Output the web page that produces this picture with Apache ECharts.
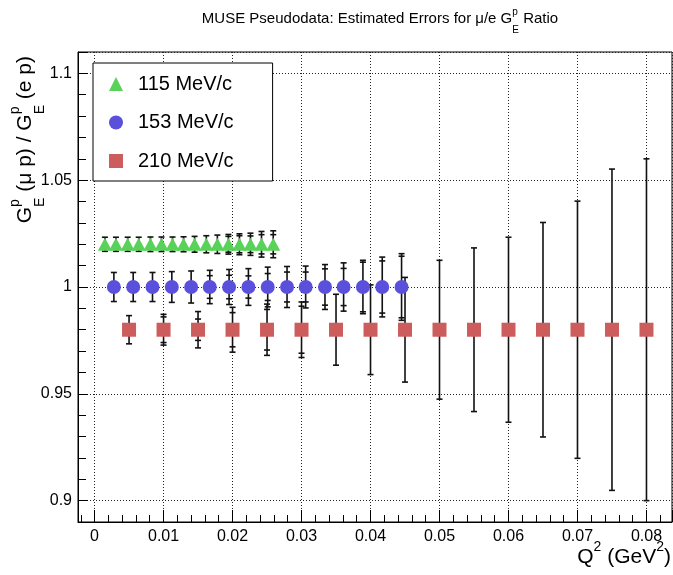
<!DOCTYPE html>
<html lang="en" style="height: 100%">
<head>
  <meta charset="utf-8">
</head>
<body style="height: 100%; margin: 0">
  <div id="container" style="width: 673px; height: 575px"></div>

  <script type="text/javascript" src="https://fastly.jsdelivr.net/npm/echarts@6.0.0/dist/echarts.min.js"></script>
  <script type="text/javascript">
    // 115 MeV/c (green triangles)
    var q115 = [0.0015, 0.0031, 0.0048, 0.0064, 0.0081, 0.0097, 0.0113, 0.0129, 0.0145, 0.0162, 0.0178, 0.0194, 0.0210, 0.0226, 0.0242, 0.0259];
    var r115 = [1.02, 1.02, 1.02, 1.02, 1.02, 1.02, 1.02, 1.02, 1.02, 1.02, 1.02, 1.02, 1.02, 1.02, 1.02, 1.02];
    var err115 = [0.0033, 0.0033, 0.0033, 0.0033, 0.0034, 0.0034, 0.0034, 0.0035, 0.0037, 0.0040, 0.0043, 0.0046, 0.0049, 0.0052, 0.0060, 0.0063];
    var errIn115 = [0.0033, 0.0033, 0.0033, 0.0033, 0.0034, 0.0034, 0.0034, 0.0035, 0.0037, 0.0040, 0.0043, 0.0037, 0.0040, 0.0039, 0.0045, 0.0045];

    // 153 MeV/c (blue circles)
    var q153 = [0.0028, 0.0056, 0.0084, 0.0112, 0.0140, 0.0167, 0.0195, 0.0223, 0.0251, 0.0279, 0.0306, 0.0334, 0.0361, 0.0389, 0.0417, 0.0445];
    var r153 = [1.0, 1.0, 1.0, 1.0, 1.0, 1.0, 1.0, 1.0, 1.0, 1.0, 1.0, 1.0, 1.0, 1.0, 1.0, 1.0];
    var err153 = [0.0068, 0.0068, 0.0068, 0.0072, 0.0075, 0.0078, 0.0082, 0.0086, 0.0093, 0.0096, 0.0098, 0.0105, 0.0113, 0.0125, 0.0140, 0.0156];
    var errIn153 = [0.0068, 0.0068, 0.0068, 0.0072, 0.0075, 0.0053, 0.0055, 0.0052, 0.0063, 0.0070, 0.0070, 0.0085, 0.0087, 0.0116, 0.0122, 0.0144];

    // 210 MeV/c (red squares)
    var q210 = [0.005, 0.010, 0.015, 0.020, 0.025, 0.030, 0.035, 0.040, 0.045, 0.050, 0.055, 0.060, 0.065, 0.070, 0.075, 0.080];
    var r210 = [0.98, 0.98, 0.98, 0.98, 0.98, 0.98, 0.98, 0.98, 0.98, 0.98, 0.98, 0.98, 0.98, 0.98, 0.98, 0.98];
    var err210 = [0.0066, 0.0072, 0.0085, 0.0105, 0.0120, 0.0130, 0.0166, 0.0210, 0.0245, 0.0325, 0.0383, 0.0433, 0.0502, 0.0602, 0.0752, 0.0800];
    var errIn210 = [0.0066, 0.0060, 0.0050, 0.0080, 0.0095, 0.0110, 0.0166, 0.0210, 0.0245, 0.0325, 0.0383, 0.0433, 0.0502, 0.0602, 0.0752, 0.0800];

    var legendNames = ['115 MeV/c', '153 MeV/c', '210 MeV/c'];

    var FONT = '"Liberation Sans", Arial, sans-serif';

    var dom = document.getElementById('container');
    var myChart = echarts.init(dom, null, { renderer: 'canvas' });

    var measureCtx = document.createElement('canvas').getContext('2d');
    function textWidth(s, size) {
      measureCtx.font = size + 'px ' + FONT;
      return measureCtx.measureText(s).width;
    }

    function textEl(str, x, y, size) {
      return {
        type: 'text', x: x, y: y,
        style: {
          text: str, fill: '#000', fontSize: size, fontFamily: FONT,
          align: 'left', textAlign: 'left', verticalAlign: 'middle', textVerticalAlign: 'middle'
        }
      };
    }

    // text with ROOT-like stacked sup/sub scripts, e.g. G_E^p
    function mathText(pieces, size, x, y, align, rotation) {
      var small = Math.round(size * 0.66);
      var widths = pieces.map(function (p) {
        if (typeof p === 'string') return textWidth(p, size);
        return Math.max(textWidth(p.sup || '', small), textWidth(p.sub || '', small));
      });
      var total = widths.reduce(function (a, b) { return a + b; }, 0);
      var cx = align === 'right' ? -total : (align === 'center' ? -total / 2 : 0);
      var children = [];
      pieces.forEach(function (p, i) {
        if (typeof p === 'string') {
          children.push(textEl(p, cx, 0, size));
        } else {
          if (p.sup) children.push(textEl(p.sup, cx, -0.45 * size, small));
          if (p.sub) children.push(textEl(p.sub, cx, 0.72 * size, small));
        }
        cx += widths[i];
      });
      return { type: 'group', x: x, y: y, rotation: rotation || 0, children: children, silent: true };
    }

    function points(q, r) {
      return q.map(function (v, i) { return [v, r[i]]; });
    }
    function errPoints(q, r, e, ein) {
      return q.map(function (v, i) { return [v, r[i], e[i], ein[i]]; });
    }

    function renderError(params, api) {
      var x = api.value(0), y = api.value(1), eo = api.value(2), ei = api.value(3);
      var top = api.coord([x, y + eo]);
      var bot = api.coord([x, y - eo]);
      var st = { stroke: '#111', lineWidth: 1.6 };
      var hw = 3;
      var children = [
        { type: 'line', shape: { x1: top[0], y1: top[1], x2: bot[0], y2: bot[1] }, style: st },
        { type: 'line', shape: { x1: top[0] - hw, y1: top[1], x2: top[0] + hw, y2: top[1] }, style: st },
        { type: 'line', shape: { x1: bot[0] - hw, y1: bot[1], x2: bot[0] + hw, y2: bot[1] }, style: st }
      ];
      if (ei < eo) {
        var it = api.coord([x, y + ei]);
        var ib = api.coord([x, y - ei]);
        children.push({ type: 'line', shape: { x1: it[0] - hw, y1: it[1], x2: it[0] + hw, y2: it[1] }, style: st });
        children.push({ type: 'line', shape: { x1: ib[0] - hw, y1: ib[1], x2: ib[0] + hw, y2: ib[1] }, style: st });
      }
      return { type: 'group', children: children };
    }

    function errorSeries(name, data) {
      return {
        name: name, type: 'custom', renderItem: renderError, data: data,
        encode: { x: 0, y: 1 }, z: 3, silent: true, clip: false
      };
    }

    var axisTextStyle = { color: '#000', fontSize: 16, fontFamily: FONT };

    var option = {
      animation: false,
      backgroundColor: '#fff',
      grid: {
        left: 78, right: 1, top: 52, bottom: 53,
        show: true, borderColor: '#000', borderWidth: 1,
        outerBoundsMode: 'none'
      },
      legend: {
        orient: 'vertical',
        left: 93, top: 63,
        data: legendNames,
        selectedMode: false,
        itemWidth: 14, itemHeight: 14,
        itemGap: 16.5,
        padding: [10, 39, 9, 16],
        borderColor: '#000', borderWidth: 1,
        backgroundColor: '#fff',
        textStyle: { color: '#000', fontSize: 20, fontFamily: FONT, lineHeight: 22, padding: [0, 0, 0, 10] }
      },
      xAxis: {
        type: 'value',
        min: -0.0024, max: 0.0837, splitNumber: 9,
        axisLine: { show: true, onZero: false, lineStyle: { color: '#000', width: 1 } },
        axisTick: { show: true, inside: true, length: 12, lineStyle: { color: '#000' } },
        minorTick: { show: true, splitNumber: 5, length: 7, lineStyle: { color: '#000' } },
        axisLabel: Object.assign({ showMinLabel: false, showMaxLabel: false, margin: 7 }, axisTextStyle),
        splitLine: { show: true, lineStyle: { color: '#222', width: 1, type: [1, 2] } },
        minorSplitLine: { show: false }
      },
      yAxis: {
        type: 'value',
        min: 0.89, max: 1.11, splitNumber: 4,
        axisLine: { show: true, onZero: false, lineStyle: { color: '#000', width: 1 } },
        axisTick: { show: true, inside: true, length: 10, lineStyle: { color: '#000' } },
        minorTick: { show: true, splitNumber: 5, length: 8, lineStyle: { color: '#000' } },
        axisLabel: Object.assign({ showMinLabel: false, showMaxLabel: false, margin: 6 }, axisTextStyle),
        splitLine: { show: true, lineStyle: { color: '#222', width: 1, type: [1, 2] } },
        minorSplitLine: { show: false }
      },
      graphic: [
        mathText(['MUSE Pseudodata: Estimated Errors for μ/e G', { sup: 'p', sub: 'E' }, ' Ratio'], 15, 380, 19, 'center'),
        mathText(['Q', { sup: '2' }, ' (GeV', { sup: '2' }, ')'], 21, 671, 557, 'right'),
        mathText(['G', { sup: 'p', sub: 'E' }, ' (μ p) / G', { sup: 'p', sub: 'E' }, ' (e p)'], 21, 25, 56, 'right', Math.PI / 2)
      ],
      series: [
        errorSeries('err115', errPoints(q115, r115, err115, errIn115)),
        errorSeries('err153', errPoints(q153, r153, err153, errIn153)),
        errorSeries('err210', errPoints(q210, r210, err210, errIn210)),
        {
          name: legendNames[0], type: 'scatter', data: points(q115, r115),
          symbol: 'triangle', symbolSize: [14, 13], z: 5, silent: true,
          itemStyle: { color: '#58d259', opacity: 1 }
        },
        {
          name: legendNames[1], type: 'scatter', data: points(q153, r153),
          symbol: 'circle', symbolSize: 14, z: 5, silent: true,
          itemStyle: { color: '#5a50dc', opacity: 1 }
        },
        {
          name: legendNames[2], type: 'scatter', data: points(q210, r210),
          symbol: 'rect', symbolSize: 14, z: 5, silent: true,
          itemStyle: { color: '#cd5c5c', opacity: 1 }
        }
      ]
    };

    myChart.setOption(option);
    window.addEventListener('resize', myChart.resize);
  </script>
</body>
</html>
